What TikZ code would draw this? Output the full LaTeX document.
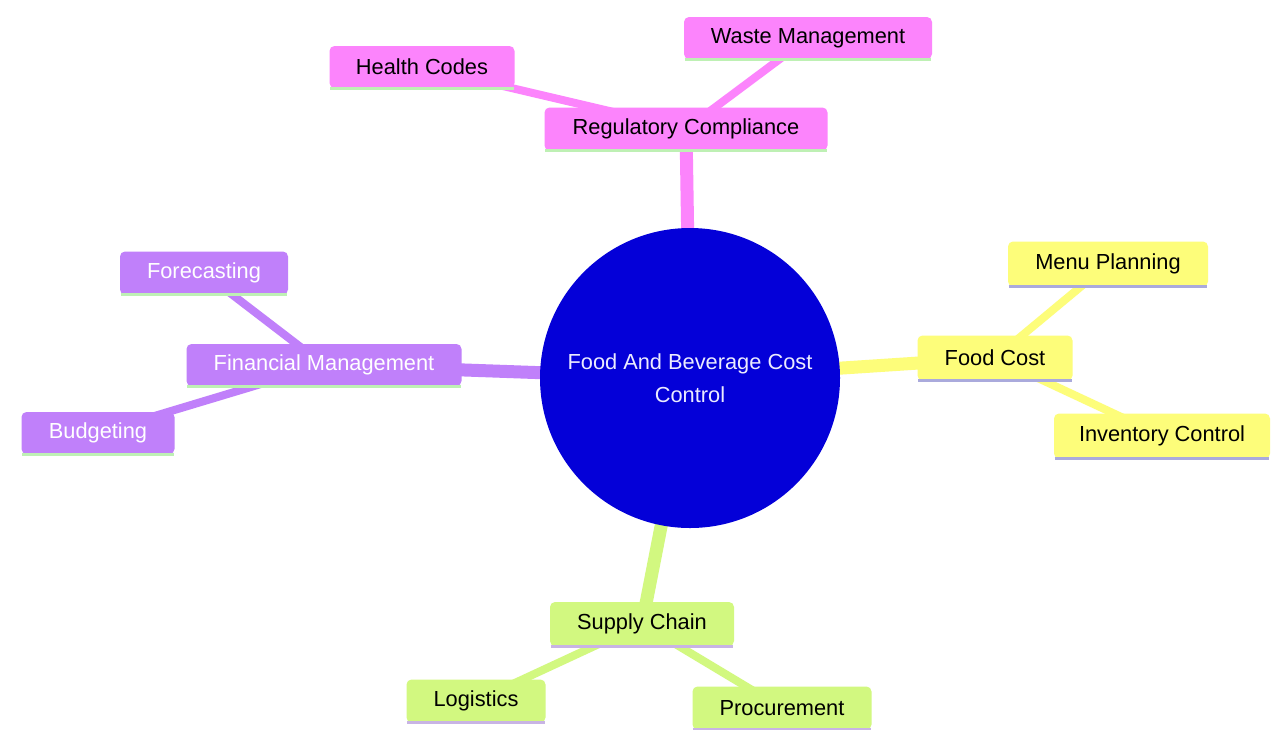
\documentclass[tikz,border=0pt]{standalone}
\usepackage{fontspec}
\setmainfont{Liberation Sans}
\usetikzlibrary{backgrounds}
\definecolor{cpink}{RGB}{252,132,252}
\definecolor{cpurple}{RGB}{192,128,250}
\definecolor{cyellow}{RGB}{253,253,122}
\definecolor{clime}{RGB}{210,248,128}
\definecolor{cblue}{RGB}{4,0,216}
\definecolor{lgreen}{RGB}{190,240,180}
\definecolor{llav}{RGB}{170,170,220}
\definecolor{llav2}{RGB}{200,180,228}
\begin{document}
\begin{tikzpicture}[x=1pt,y=-1pt,
  every node/.style={font=\fontsize{21.8}{25}\selectfont, inner sep=0pt, align=center},
  box/.style={rectangle, rounded corners=5pt, text=black},
  pinkbox/.style={box, fill=cpink},
  purplebox/.style={box, fill=cpurple, text=white},
  yellowbox/.style={box, fill=cyellow},
  limebox/.style={box, fill=clime},
  edgeA/.style={line width=13pt},
  edgeB/.style={line width=8pt},
  botline/.style={line width=3pt}
]
\useasboundingbox (0,0) rectangle (1271,729);

% center
\node[circle, fill=cblue, minimum size=300pt, text=white!92!blue,
      font=\fontsize{21.8}{33}\selectfont] (root) at (690,378)
  {Food And Beverage Cost\\Control};

% regulatory
\node[pinkbox, minimum width=283pt, minimum height=43pt] (reg) at (686,129) {Regulatory Compliance};
\node[pinkbox, minimum width=185pt, minimum height=42pt] (health) at (422,67) {Health Codes};
\node[pinkbox, minimum width=248pt, minimum height=42pt] (waste) at (808,38) {Waste Management};

% financial
\node[purplebox, minimum width=275pt, minimum height=42pt] (fin) at (324,365) {Financial Management};
\node[purplebox, minimum width=168pt, minimum height=43pt] (fore) at (204,273) {Forecasting};
\node[purplebox, minimum width=153pt, minimum height=42pt] (budg) at (98,433) {Budgeting};

% food cost
\node[yellowbox, minimum width=155pt, minimum height=45pt] (food) at (995,358) {Food Cost};
\node[yellowbox, minimum width=200pt, minimum height=45pt] (menu) at (1108,264) {Menu Planning};
\node[yellowbox, minimum width=216pt, minimum height=45pt] (inv) at (1162,436) {Inventory Control};

% supply chain
\node[limebox, minimum width=184pt, minimum height=44pt] (supply) at (642,624) {Supply Chain};
\node[limebox, minimum width=139pt, minimum height=43pt] (logi) at (476,701) {Logistics};
\node[limebox, minimum width=179pt, minimum height=43pt] (proc) at (782,708) {Procurement};

\begin{scope}[on background layer]
  \fill[white] (0,0) rectangle (1271,729);
  \draw[edgeA, cpink] (root.center) -- (reg.center);
  \draw[edgeB, cpink] (reg.center) -- (health.center);
  \draw[edgeB, cpink] (reg.center) -- (waste.center);
  \draw[edgeA, cpurple] (root.center) -- (fin.center);
  \draw[edgeB, cpurple] (fin.center) -- (fore.center);
  \draw[edgeB, cpurple] (fin.center) -- (budg.center);
  \draw[edgeA, cyellow] (root.center) -- (food.center);
  \draw[edgeB, cyellow] (food.center) -- (menu.center);
  \draw[edgeB, cyellow] (food.center) -- (inv.center);
  \draw[edgeA, clime] (root.center) -- (supply.center);
  \draw[edgeB, clime] (supply.center) -- (logi.center);
  \draw[edgeB, clime] (supply.center) -- (proc.center);
\end{scope}

% bottom lines
\foreach \n in {reg,health,waste,fin,fore,budg}
  \draw[botline, lgreen] ([xshift=1pt]\n.south west) -- ([xshift=-1pt]\n.south east);
\foreach \n in {food,menu,inv}
  \draw[botline, llav] ([xshift=1pt]\n.south west) -- ([xshift=-1pt]\n.south east);
\foreach \n in {supply,logi,proc}
  \draw[botline, llav2] ([xshift=1pt]\n.south west) -- ([xshift=-1pt]\n.south east);
\end{tikzpicture}
\end{document}
